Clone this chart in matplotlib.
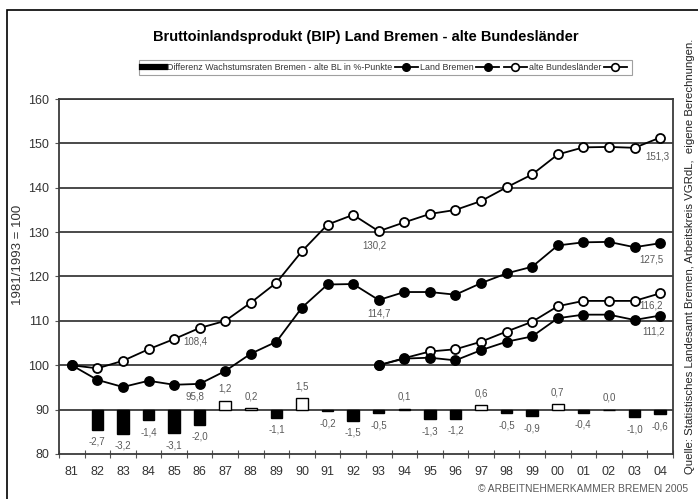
import numpy as np
import matplotlib
matplotlib.use("Agg")
import matplotlib.pyplot as plt
from matplotlib.lines import Line2D
from matplotlib.patches import Rectangle

plt.rcParams['font.family'] = ['Liberation Sans', 'DejaVu Sans']

# ---------------- Daten ----------------
jahre = ['81', '82', '83', '84', '85', '86', '87', '88', '89', '90', '91', '92',
         '93', '94', '95', '96', '97', '98', '99', '00', '01', '02', '03', '04']

# Index 1981 = 100
bremen_81 = [100.0, 96.7, 95.1, 96.5, 95.6, 95.8, 98.7, 102.6, 105.3, 113.0, 118.2, 118.3,
             114.7, 116.5, 116.5, 115.9, 118.5, 120.7, 122.2, 127.0, 127.7, 127.8, 126.6, 127.5]
altbl_81 = [100.0, 99.3, 101.0, 103.6, 105.9, 108.4, 110.0, 114.1, 118.6, 125.7, 131.7, 133.9,
            130.2, 132.2, 134.1, 135.0, 137.0, 140.1, 143.0, 147.5, 149.1, 149.2, 149.0, 151.3]

# Index 1993 = 100 (ab 1993)
bremen_93 = [100.0, 101.5, 101.7, 101.1, 103.4, 105.3, 106.5, 110.6, 111.4, 111.4, 110.2, 111.2]
altbl_93 = [100.0, 101.6, 103.1, 103.6, 105.3, 107.6, 109.8, 113.3, 114.5, 114.5, 114.5, 116.2]

# Differenz Wachstumsraten Bremen - alte BL (%-Punkte), ab 1982
diff = [-2.7, -3.2, -1.4, -3.1, -2.0, 1.2, 0.2, -1.1, 1.5, -0.2, -1.5,
        -0.5, 0.1, -1.3, -1.2, 0.6, -0.5, -0.9, 0.7, -0.4, 0.0, -1.0, -0.6]

diff_labels = ['-2,7', '-3,2', '-1,4', '-3,1', '-2,0', '1,2', '0,2', '-1,1', '1,5', '-0,2', '-1,5',
               '-0,5', '0,1', '-1,3', '-1,2', '0,6', '-0,5', '-0,9', '0,7', '-0,4', '0,0', '-1,0', '-0,6']

GRAU = '#5a5a5a'

# ---------------- Figur ----------------
fig = plt.figure(figsize=(6.98, 4.99), dpi=100)
ax = fig.add_axes([0.0845, 0.0902, 0.8795, 0.7114])

x = np.arange(len(jahre))
x93 = x[12:]

ax.set_xlim(-0.5, len(jahre) - 0.5)
ax.set_ylim(80, 160)
ax.set_yticks(np.arange(80, 161, 10))
for v in np.arange(90, 161, 10):
    ax.axhline(v, color='#3a3a3a', lw=1.3, zorder=1)

mk = dict(markersize=6.5, markeredgewidth=1.3, lw=1.3, color='black', zorder=3)
ax.plot(x, altbl_81, marker='o', markerfacecolor='white', **mk)
ax.plot(x, bremen_81, marker='o', markerfacecolor='black', **mk)
ax.plot(x93, altbl_93, marker='o', markerfacecolor='white', **mk)
ax.plot(x93, bremen_93, marker='o', markerfacecolor='black', **mk)

# Beschriftungen an den Linien
lbl = dict(textcoords='offset pixels', ha='center', va='center', fontsize=7, color=GRAU)
ax.annotate('108,4', (5, altbl_81[5]), xytext=(-4, -14), **lbl)
ax.annotate('95,8', (5, bremen_81[5]), xytext=(-5, -13), **lbl)
ax.annotate('130,2', (12, altbl_81[12]), xytext=(-4, -14), **lbl)
ax.annotate('114,7', (12, bremen_81[12]), xytext=(0, -13), **lbl)
ax.annotate('151,3', (23, altbl_81[23]), xytext=(-3, -19), **lbl)
ax.annotate('127,5', (23, bremen_81[23]), xytext=(-9, -16), **lbl)
ax.annotate('116,2', (23, altbl_93[-1]), xytext=(-9, -12), **lbl)
ax.annotate('111,2', (23, bremen_93[-1]), xytext=(-6, -16), **lbl)

# Balken auf Sekundaerachse (0 liegt auf 90)
k = 1.7
ax2 = ax.twinx()
ax2.set_ylim(-10 / k, 70 / k)
ax2.axis('off')
xb = x[1:]
farben = ['white' if d > 0 else 'black' for d in diff]
ax2.bar(xb, diff, width=0.45, color=farben, edgecolor='black', linewidth=1.0, zorder=2)
for xi, d, t in zip(xb, diff, diff_labels):
    if d > 0 or t == '0,0':
        ax2.annotate(t, (xi, d), xytext=(0, 12), **lbl)
    else:
        ax2.annotate(t, (xi, d), xytext=(0, -12), **lbl)

# Achsen
ax.set_xticks(x)
ax.set_xticklabels(jahre)
ax.set_xticks(np.arange(-0.5, len(jahre), 1.0), minor=True)
ax.tick_params(axis='x', which='major', length=0, labelsize=9, labelcolor='#333333', pad=9)
ax.tick_params(axis='x', which='minor', direction='inout', length=6, width=0.8, color='#555555')
ax.tick_params(axis='y', which='major', direction='out', length=3, width=0.8,
               labelsize=9, labelcolor='#333333', color='#555555', pad=4)
for s in ax.spines.values():
    s.set_linewidth(1.3)
    s.set_color('#3a3a3a')
ax.set_ylabel('1981/1993 = 100', fontsize=9.5, color='#333333')
ax.yaxis.set_label_coords(-0.057, 0.56)

# Titel
fig.text(0.524, 0.926, 'Bruttoinlandsprodukt (BIP) Land Bremen - alte Bundesländer',
         ha='center', va='center', fontsize=10.5, fontweight='bold')

# Legende
h_bar = Line2D([0], [0], color='black', lw=4.5)
h_br = Line2D([0], [0], color='black', lw=1.3, marker='o', markersize=5.5, markerfacecolor='black')
h_bl = Line2D([0], [0], color='black', lw=1.3, marker='o', markersize=5.5,
              markerfacecolor='white', markeredgewidth=1.2)
leg = fig.legend([h_bar, h_br, h_br, h_bl, h_bl],
                 ['Differenz Wachstumsraten Bremen - alte BL in %-Punkte', 'Land Bremen', '',
                  'alte Bundesländer', ''],
                 loc='center', bbox_to_anchor=(0.552, 0.864), ncol=5, fontsize=6.4,
                 handlelength=2.6, handletextpad=0.2, columnspacing=0.3,
                 frameon=True, fancybox=False, borderpad=0.35)
leg.get_frame().set_edgecolor('#888888')
leg.get_frame().set_linewidth(0.8)
for t in leg.get_texts():
    t.set_color('#333333')

# Quelle und Copyright
fig.text(0.9885, 0.487, 'Quelle: Statistisches Landesamt Bremen, Arbeitskreis VGRdL,  eigene Berechnungen.',
         rotation=90, ha='center', va='center', fontsize=8.2, color='#222222')
fig.text(0.986, 0.02, '© ARBEITNEHMERKAMMER BREMEN 2005', ha='right', va='center',
         fontsize=7.4, color=GRAU)

# Rahmen
fig.patches.append(Rectangle((7 / 698, -0.05), 1.2, 1 - 10 / 499 + 0.05,
                             transform=fig.transFigure, fill=False, lw=1.2,
                             edgecolor='black', clip_on=False))

fig.savefig('out.png', dpi=100)
